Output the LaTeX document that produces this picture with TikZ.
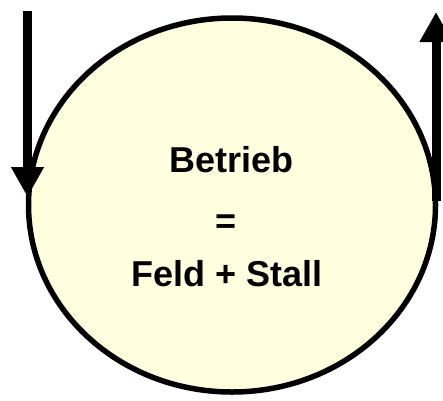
\documentclass[tikz,border=0pt]{standalone}
\usepackage{fontspec}
\setmainfont{Liberation Sans}
\usetikzlibrary{shapes.geometric,arrows.meta}
\definecolor{paleyellow}{HTML}{FFFFE0}
\tikzset{
  wheel/.style={ellipse, draw=black, line width=5.5pt, fill=paleyellow, inner sep=0pt,
    minimum width=407pt, minimum height=374pt},
  label/.style={anchor=base, inner sep=0pt, font=\fontsize{36}{42}\selectfont\bfseries},
  flow/.style={line width=9pt, -{Triangle[width=31pt,length=30pt]}}
}
\begin{document}
\begin{tikzpicture}[x=1pt,y=-1pt]
  \useasboundingbox (0,0) rectangle (443,400);
  \node[wheel] (betrieb) at (232,205) {};
  \node[label] (t1) at (231.5,172.7) {Betrieb};
  \node[label] (t2) at (226,233) {=};
  \node[label] (t3) at (227,286.7) {Feld + Stall};
  \coordinate (inTop) at (27.5,11);
  \coordinate (inTip) at (27.5,197);
  \coordinate (outBase) at (436,200.7);
  \coordinate (outTip) at (436,12);
  \draw[flow] (inTop) -- (inTip);
  \draw[flow] (outBase) -- (outTip);
\end{tikzpicture}
\end{document}
